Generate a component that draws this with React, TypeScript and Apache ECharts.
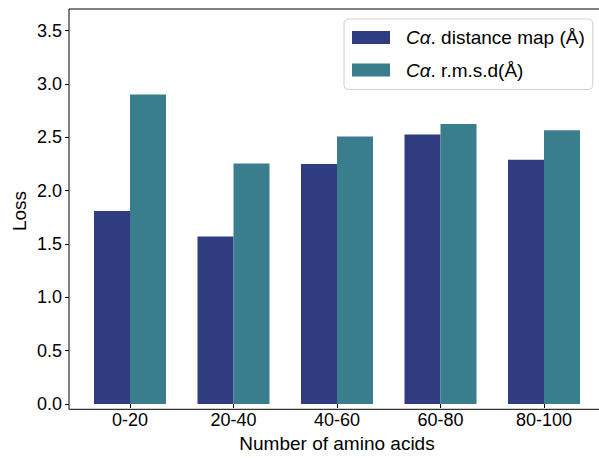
import React, { useEffect, useRef } from "react";
import * as echarts from "echarts";

const categories = ["0-20", "20-40", "40-60", "60-80", "80-100"];
const distanceMap = [1.81, 1.57, 2.25, 2.525, 2.29];
const rmsd = [2.9, 2.255, 2.507, 2.625, 2.566];
const seriesNames = ["Cα. distance map (Å)", "Cα. r.m.s.d(Å)"];

const FONT = "Liberation Sans, Arial, sans-serif";

export default function App() {
  const ref = useRef<HTMLDivElement>(null);
  useEffect(() => {
    document.body.style.margin = "0";
    document.body.style.overflow = "hidden";
    document.documentElement.style.overflow = "hidden";
    if (!ref.current) return;
    const chart = echarts.init(ref.current, undefined, { renderer: "svg" });
    const gridLeft = 78.25;
    const gridTop = 30.6;
    const gridH = 378.7;
    const gridW = 517.5;
    chart.setOption({
      animation: false,
      backgroundColor: "#ffffff",
      textStyle: { fontFamily: FONT },
      grid: { left: gridLeft, top: gridTop, width: gridW, height: gridH },
      legend: {
        data: seriesNames,
        orient: "vertical",
        left: 344,
        top: 19,
        padding: [9, 8, 10, 8],
        itemGap: 13.5,
        itemWidth: 38,
        itemHeight: 13,
        icon: "rect",
        backgroundColor: "rgba(255,255,255,0.85)",
        borderColor: "#d0d0d0",
        borderWidth: 1,
        borderRadius: 4,
        formatter: (name: string) => {
          const rest = name.slice(2);
          return "{i|Cα}{t|" + rest + "}";
        },
        textStyle: {
          fontFamily: FONT,
          fontSize: 19,
          color: "#000",
          rich: {
            i: { fontStyle: "italic", fontFamily: FONT, fontSize: 19, color: "#000", padding: [0, 0, 0, 11] },
            t: { fontFamily: FONT, fontSize: 19, color: "#000" },
          },
        },
      },
      xAxis: {
        type: "category",
        data: categories,
        name: "Number of amino acids",
        nameLocation: "middle",
        nameGap: 30,
        nameTextStyle: { fontFamily: FONT, fontSize: 19, color: "#000" },
        axisLine: { show: false },
        axisTick: { show: true, alignWithLabel: true, length: 4, lineStyle: { color: "#000" } },
        axisLabel: { fontFamily: FONT, fontSize: 18, color: "#000", margin: 6.6 },
        splitLine: { show: false },
      },
      yAxis: {
        type: "value",
        min: 0,
        max: 3.5,
        interval: 0.5,
        offset: gridLeft - 69,
        axisLine: { show: false },
        axisTick: { show: true, length: 4, lineStyle: { color: "#000" } },
        axisLabel: {
          fontFamily: FONT,
          fontSize: 18,
          color: "#000",
          margin: 7,
          formatter: (v: number) => v.toFixed(1),
        },
        splitLine: { show: false },
      },
      series: [
        {
          name: seriesNames[0],
          type: "bar",
          data: distanceMap,
          barWidth: 36,
          barGap: "0%",
          itemStyle: { color: "#2F3C80" },
        },
        {
          name: seriesNames[1],
          type: "bar",
          data: rmsd,
          barWidth: 36,
          barGap: "0%",
          itemStyle: { color: "#3A7D8C" },
        },
      ],
      graphic: [
        {
          type: "rect",
          z: 100,
          silent: true,
          shape: { x: 69, y: 9, width: 536, height: gridTop + gridH - 9 },
          style: { fill: "none", stroke: "#000", lineWidth: 1 },
        },
        {
          type: "text",
          x: 19.5,
          y: 211,
          rotation: Math.PI / 2,
          style: {
            text: "Loss",
            fontFamily: FONT,
            fontSize: 19,
            fill: "#000",
            textAlign: "center",
            textVerticalAlign: "middle",
          },
        },
      ],
    });
    return () => chart.dispose();
  }, []);
  return (
    <div
      ref={ref}
      style={{ width: 599, height: 458, background: "#fff", overflow: "hidden" }}
    />
  );
}
